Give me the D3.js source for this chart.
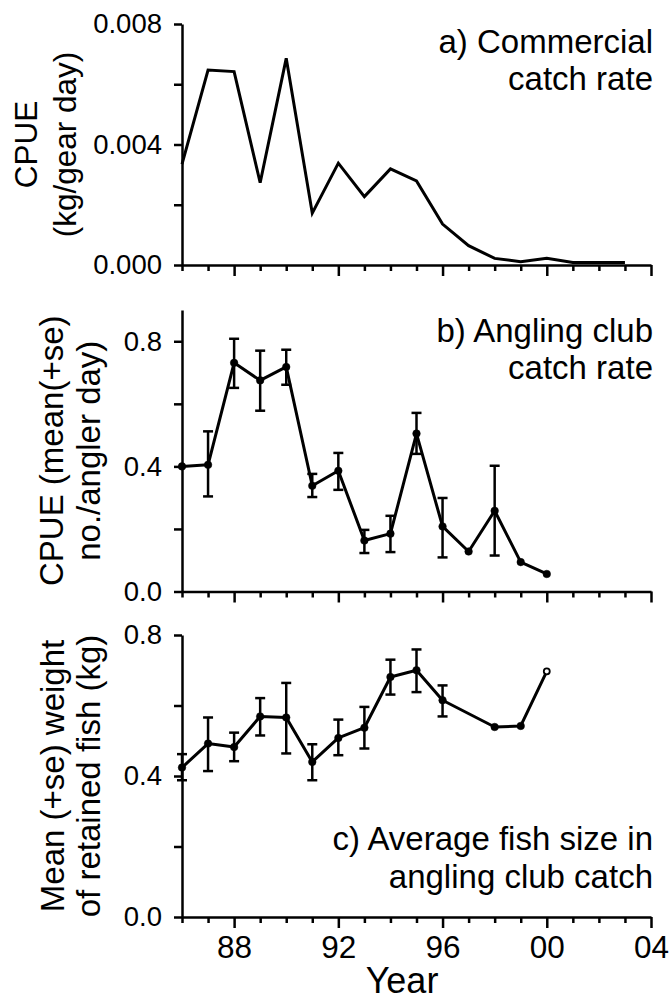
<!DOCTYPE html>
<html>
<head>
<meta charset="utf-8">
<script src="https://cdn.jsdelivr.net/npm/d3@7"></script>
<style>
  html, body { margin: 0; padding: 0; background: #fff; }
  svg { display: block; font-family: "Liberation Sans", Arial, sans-serif; }
</style>
</head>
<body>
<svg id="chart" width="672" height="1001"></svg>
<script>
// ---- Data ----
const commercialYears = [1986,1987,1988,1989,1990,1991,1992,1993,1994,1995,1996,1997,1998,1999,2000,2001,2002,2003];
const commercialCPUE  = [0.00335,0.00647,0.00642,0.00273,0.00686,0.00172,0.00338,0.00227,0.00319,0.00279,0.00136,0.00064,0.00022,0.00011,0.00022,0.00008,0.00008,0.00008];

const anglingYears = [1986,1987,1988,1989,1990,1991,1992,1993,1994,1995,1996,1997,1998,1999,2000];
const anglingMean  = [0.400,0.405,0.731,0.675,0.718,0.338,0.386,0.163,0.185,0.505,0.208,0.128,0.258,0.094,0.056];
const anglingUpper = [null,0.512,0.808,0.770,0.773,0.376,0.443,0.197,0.242,0.571,0.299,null,0.402,null,null];
const anglingLower = [null,0.304,0.651,0.578,0.661,0.302,0.325,0.123,0.126,0.440,0.109,null,0.115,null,null];

const weightYears = [1986,1987,1988,1989,1990,1991,1992,1993,1994,1995,1996,1998,1999,2000];
const weightMean  = [0.424,0.492,0.482,0.569,0.566,0.440,0.508,0.537,0.681,0.700,0.615,0.539,0.542,0.697];
const weightUpper = [0.462,0.566,0.523,0.621,0.664,0.490,0.560,0.596,0.730,0.759,0.657,null,null,null];
const weightLower = [0.388,0.414,0.442,0.515,0.464,0.388,0.459,0.478,0.631,0.638,0.569,null,null,null];
const weightOpen  = [false,false,false,false,false,false,false,false,false,false,false,false,false,true];

const xTickYears  = [1986,1987,1988,1989,1990,1991,1992,1993,1994,1995,1996,1997,1998,1999,2000,2001,2002,2003,2004];
const xLabelYears = [1988,1992,1996,2000,2004];
const xLabels     = ["88","92","96","00","04"];

const panelA = { yTicks: [0,0.002,0.004,0.006,0.008], yLabels: {"0":"0.000","0.004":"0.004","0.008":"0.008"}, domain: [0,0.008],
                 title: ["a) Commercial","catch rate"], ylab: ["CPUE","(kg/gear day)"] };
const panelB = { yTicks: [0,0.2,0.4,0.6,0.8], yLabels: {"0":"0.0","0.4":"0.4","0.8":"0.8"}, domain: [0,0.9],
                 title: ["b) Angling club","catch rate"], ylab: ["CPUE (mean(+se)","no./angler day)"] };
const panelC = { yTicks: [0,0.2,0.4,0.6,0.8], yLabels: {"0":"0.0","0.4":"0.4","0.8":"0.8"}, domain: [0,0.8],
                 title: ["c) Average fish size in","angling club catch"], ylab: ["Mean (+se) weight","of retained fish (kg)"] };

// ---- Layout ----
const svg = d3.select("#chart");
const x = d3.scaleLinear().domain([1986,2004]).range([182,651]);

const layouts = [
  { p: panelA, top: 24,  bottom: 265,   titleY: [53,90],   labX: [37,76],  labSize: 31.5 },
  { p: panelB, top: 310, bottom: 591.5, titleY: [342,379], labX: [63,100], labSize: 33 },
  { p: panelC, top: 635, bottom: 917,   titleY: [850,888], labX: [64,100], labSize: 33 }
];

const scales = layouts.map(L => d3.scaleLinear().domain(L.p.domain).range([L.bottom, L.top]));

layouts.forEach((L, i) => {
  const y = scales[i];
  // y axis
  const ya = svg.append("g").attr("transform", `translate(${x(1986)},0)`)
    .call(d3.axisLeft(y).tickValues(L.p.yTicks).tickSize(8).tickSizeOuter(0).tickPadding(12)
      .tickFormat(d => L.p.yLabels[String(d)] || ""));
  ya.select(".domain").attr("stroke", "#000").attr("stroke-width", 2.5);
  ya.selectAll(".tick line").attr("stroke", "#000").attr("stroke-width", 2.5);
  ya.selectAll(".tick text").attr("font-size", 27.5).attr("fill", "#000").attr("font-family", "Liberation Sans, Arial, sans-serif");

  // x axis
  const xa = svg.append("g").attr("transform", `translate(0,${L.bottom})`)
    .call(d3.axisBottom(x).tickValues(xTickYears).tickSize(6).tickSizeOuter(0).tickFormat(""));
  xa.select(".domain").attr("stroke", "#000").attr("stroke-width", 2.5);
  xa.selectAll(".tick line").attr("stroke", "#000").attr("stroke-width", 2.5)
    .attr("y2", d => xLabelYears.includes(d) ? 11 : 6);
  if (i === 2) {
    xa.selectAll(".tick text").filter(d => xLabelYears.includes(d))
      .text(d => xLabels[xLabelYears.indexOf(d)])
      .attr("y", 41).attr("dy", 0).attr("font-size", 31.5).attr("fill", "#000")
      .attr("font-family", "Liberation Sans, Arial, sans-serif");
  }

  // title
  const t = svg.append("text").attr("text-anchor", "end").attr("font-size", 33).attr("fill", "#000");
  L.p.title.forEach((s, k) => t.append("tspan").attr("x", 653).attr("y", L.titleY[k]).text(s));

  // y label
  const cy = (L.top + L.bottom) / 2;
  L.p.ylab.forEach((s, k) => {
    svg.append("text").attr("text-anchor", "middle").attr("font-size", L.labSize).attr("fill", "#000")
      .attr("transform", `translate(${L.labX[k]},${cy}) rotate(-90)`).text(s);
  });
});

// ---- Panel a line ----
svg.append("path")
  .datum(commercialYears.map((yr, i) => [yr, commercialCPUE[i]]))
  .attr("fill", "none").attr("stroke", "#000").attr("stroke-width", 3).attr("stroke-linejoin", "miter")
  .attr("d", d3.line().x(d => x(d[0])).y(d => scales[0](d[1])));

// ---- Panels b & c ----
function drawSeries(yrs, mean, up, lo, y, openFlags) {
  const g = svg.append("g");
  yrs.forEach((yr, i) => {
    if (up[i] == null) return;
    const cx = x(yr);
    g.append("line").attr("x1", cx).attr("x2", cx).attr("y1", y(up[i])).attr("y2", y(lo[i]))
      .attr("stroke", "#000").attr("stroke-width", 2.5);
    [up[i], lo[i]].forEach(v => {
      g.append("line").attr("x1", cx - 5).attr("x2", cx + 5).attr("y1", y(v)).attr("y2", y(v))
        .attr("stroke", "#000").attr("stroke-width", 2.5);
    });
  });
  g.append("path")
    .datum(yrs.map((yr, i) => [yr, mean[i]]))
    .attr("fill", "none").attr("stroke", "#000").attr("stroke-width", 3).attr("stroke-linejoin", "round")
    .attr("d", d3.line().x(d => x(d[0])).y(d => y(d[1])));
  g.selectAll("circle").data(yrs.map((yr, i) => ({ yr, v: mean[i], open: openFlags ? openFlags[i] : false })))
    .enter().append("circle")
    .attr("cx", d => x(d.yr)).attr("cy", d => y(d.v))
    .attr("r", d => d.open ? 3 : 3.8)
    .attr("fill", d => d.open ? "#fff" : "#000")
    .attr("stroke", "#000").attr("stroke-width", d => d.open ? 1.8 : 0.5);
}
drawSeries(anglingYears, anglingMean, anglingUpper, anglingLower, scales[1], null);
drawSeries(weightYears, weightMean, weightUpper, weightLower, scales[2], weightOpen);

// x axis title
svg.append("text").attr("x", 402).attr("y", 993).attr("text-anchor", "middle")
  .attr("font-size", 36).attr("fill", "#000").text("Year");
</script>
</body>
</html>
